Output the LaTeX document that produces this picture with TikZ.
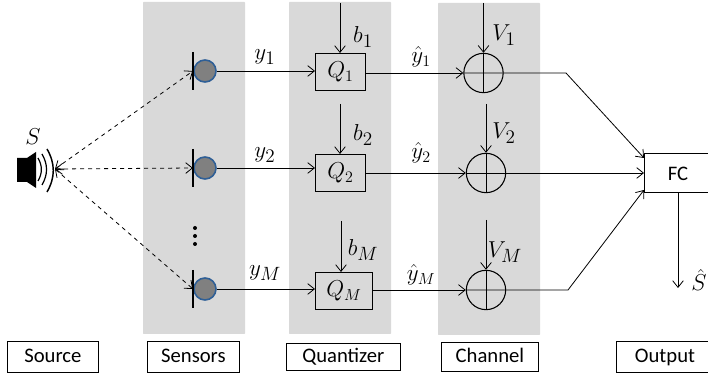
\documentclass[tikz,border=0pt]{standalone}
\usepackage{fontspec}
\setmainfont{Carlito}
\usetikzlibrary{arrows.meta}
\definecolor{micblue}{RGB}{47,95,150}
\begin{document}
\begin{tikzpicture}
  [x=.75pt,y=-.75pt,font=\fontsize{15.5}{18}\selectfont,
   panel/.style={fill=black!15,draw=none,rounded corners=.5pt},
   quant/.style={draw,line width=.8pt,inner sep=0pt,anchor=north west,font=\fontsize{17}{19}\selectfont},
   adder/.style={circle,draw,line width=.8pt,inner sep=0pt,minimum size=29.5pt},
   mic/.style={circle,draw=micblue,fill=black!50,line width=1.2pt,inner sep=0pt,minimum size=16.5pt},
   tag/.style={draw,line width=.6pt,inner sep=0pt,anchor=north west,text height=10pt,text depth=1pt},
   sig/.style={line width=.6pt,-{Straight Barb[length=5pt,width=8pt]}},
   wave/.style={line width=.6pt,dashed,{Straight Barb[length=5pt,width=8pt]}-{Straight Barb[length=5pt,width=8pt]}},
   math/.style={inner sep=0pt,font=\fontsize{19}{21}\selectfont},
   hatmath/.style={inner sep=0pt,font=\fontsize{18}{20}\selectfont}]

  \useasboundingbox (0,0) rectangle (708,377);

  % panels
  \fill [panel] (143,2) rectangle (245,334);
  \fill [panel] (289,2) rectangle (391,334);
  \fill [panel] (438,3) rectangle (540,335);

  % speaker
  \fill (17,158) -- (27,158) -- (36,152) -- (36,188) -- (27,182) -- (17,182) -- cycle;
  \draw [line width=.9pt] (38,158) to [bend left=30] (38,181);
  \draw [line width=.9pt] (42,154) to [bend left=30] (42,185);
  \draw [line width=1.1pt] (47,149) to [bend left=30] (47,192);
  \coordinate (spk) at (55,169);
  \node [math] (S) at (33,137) {$S$};

  % sensors
  \node [mic] (m1) at (205,71) {};
  \node [mic] (m2) at (205,168) {};
  \node [mic] (mM) at (205,289) {};
  \draw [line width=1.2pt] (193,52) -- (193,90) coordinate [midway] (s1);
  \draw [line width=1.2pt] (193,149) -- (193,187) coordinate [midway] (s2);
  \draw [line width=1.2pt] (193,270) -- (193,308) coordinate [midway] (sM);
  \fill (195,228) circle (1.5pt) (195,236) circle (1.5pt) (195,244) circle (1.5pt);

  \draw [wave] (spk) -- (s1);
  \draw [wave] (spk) -- (s2);
  \draw [wave] (spk) -- (sM);

  % quantizers
  \node [quant,minimum width=37.5pt,minimum height=27.75pt] (Q1) at (315,53) {$Q_1$};
  \node [quant,minimum width=37.5pt,minimum height=27.75pt] (Q2) at (315,154) {$Q_2$};
  \node [quant,minimum width=42.75pt,minimum height=27.75pt] (QM) at (315,272) {$Q_M$};

  % adders
  \node [adder] (A1) at (483.5,73) {};
  \node [adder] (A2) at (486,173) {};
  \node [adder] (AM) at (486,290) {};
  \draw [line width=.7pt] (A1.north) -- (A1.south);
  \draw [line width=.7pt] (A2.north) -- (A2.south);
  \draw [line width=.7pt] (AM.north) -- (AM.south);

  % fusion center
  \node [draw,line width=.8pt,minimum width=51.75pt,minimum height=29.25pt,anchor=north west,inner sep=0pt] (FC) at (644,153) {};
  \node [inner sep=0pt] (FCtext) at (678,174) {FC};

  % inputs from the top
  \coordinate (b1) at (340,3);
  \coordinate (b2) at (340,104);
  \coordinate (bM) at (341,221);
  \coordinate (V1) at (483.5,3);
  \coordinate (V2) at (486,104);
  \coordinate (VM) at (486,220);
  \draw [sig] (b1) -- (Q1.north -| b1);
  \draw [sig] (b2) -- (Q2.north -| b2);
  \draw [sig] (bM) -- (QM.north -| bM);
  \draw [sig] (V1) -- (A1.north);
  \draw [sig] (V2) -- (A2.north);
  \draw [sig] (VM) -- (AM.north);

  % signal paths
  \draw [sig] (m1) -- (Q1.west |- m1);
  \draw [sig] (m2) -- (Q2.west |- m2);
  \draw [sig] (mM) -- (QM.west |- mM);
  \draw [sig] (Q1.east |- A1) -- (A1.west);
  \draw [sig] (Q2.east |- A2) -- (A2.west);
  \draw [sig] (QM.east |- AM) -- (AM.west);
  \coordinate (k1) at (566,73);
  \coordinate (kM) at (568,290);
  \coordinate (S1) at (644,158);
  \coordinate (SM) at (644,190);
  \draw [sig] (A1.west) -- (k1) -- (S1);
  \draw [sig] (A2.west) -- (FC.west |- A2);
  \draw [sig] (AM.west) -- (kM) -- (SM);
  \coordinate (Sout) at (678,288);
  \draw [sig] (FC.south -| Sout) -- (Sout);

  % labels
  \node [math] (ly1) at (265,57) {$y_1$};
  \node [math] (ly2) at (265,155) {$y_2$};
  \node [math] (lyM) at (265,273) {$y_M$};
  \node [math] (lb1) at (363,37) {$b_1$};
  \node [math] (lb2) at (363,135) {$b_2$};
  \node [math] (lbM) at (363,250) {$b_M$};
  \node [hatmath] (lh1) at (421,57) {$\hat{y}_1$};
  \node [hatmath] (lh2) at (421,153) {$\hat{y}_2$};
  \node [hatmath] (lhM) at (421,275) {$\hat{y}_M$};
  \node [math] (lV1) at (504,35) {$V_1$};
  \node [math] (lV2) at (504,133) {$V_2$};
  \node [math] (lVM) at (505,252) {$V_M$};
  \node [math] (lS) at (699,280) {$\hat{S}$};

  % bottom row
  \node [tag,minimum width=68.25pt,minimum height=23.25pt] (t1) at (7,341) {Source};
  \node [tag,minimum width=69pt,minimum height=23.25pt] (t2) at (147,341) {Sensors};
  \node [tag,minimum width=85.5pt,minimum height=20.25pt] (t3) at (286,343) {Quantizer};
  \node [tag,minimum width=72.75pt,minimum height=21.75pt] (t4) at (441,342) {Channel};
  \node [tag,minimum width=72.75pt,minimum height=23.25pt] (t5) at (616,341) {};
  \node [inner sep=0pt,text height=10pt,text depth=1pt] (t5text) at (665,356.5) {Output};
\end{tikzpicture}
\end{document}
